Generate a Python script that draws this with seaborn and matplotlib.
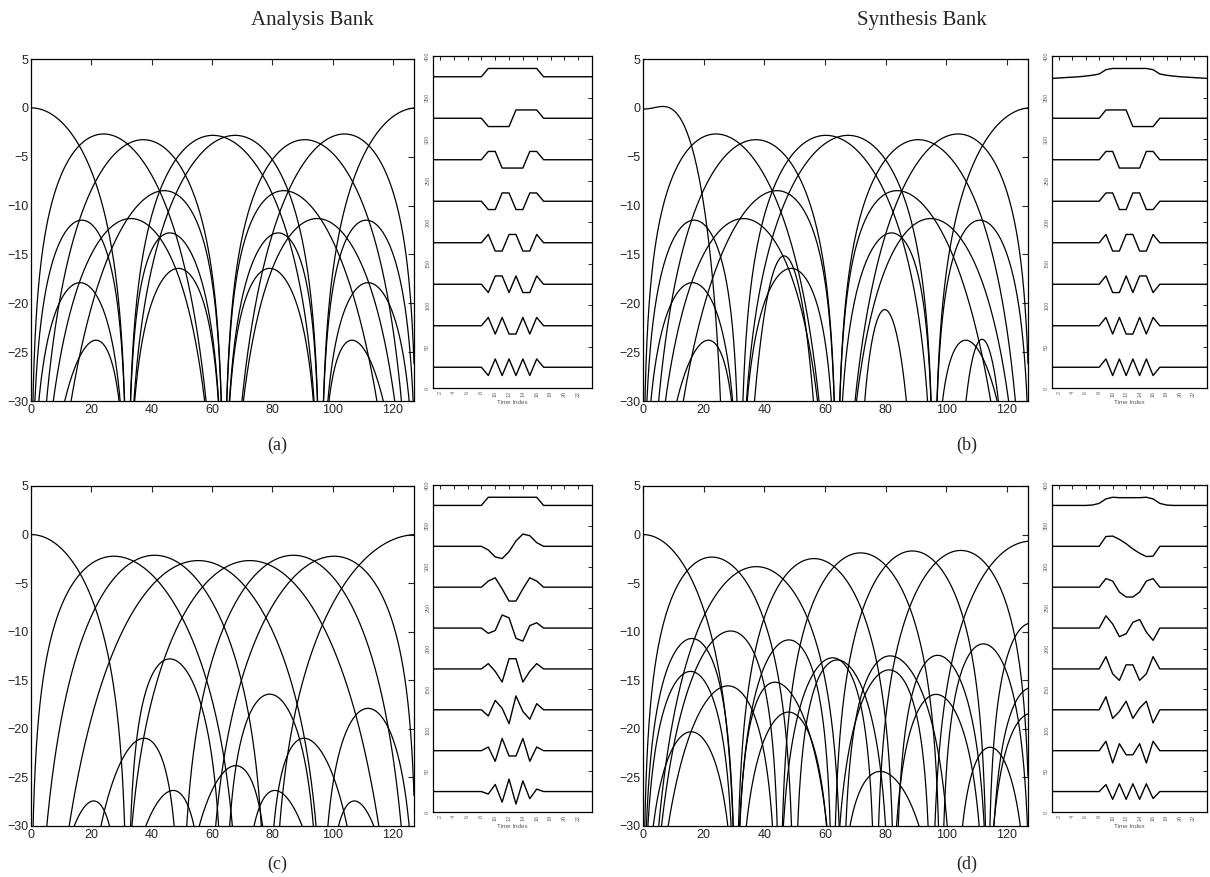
import numpy as np
import pandas as pd
import matplotlib
matplotlib.use("Agg")
import matplotlib.pyplot as plt
import seaborn as sns

sns.set_style("white")
plt.rcParams["font.family"] = ["Liberation Sans", "DejaVu Sans"]

# impulse responses, unit = one Walsh step.
# short filters sit at time index 9..16, the long low-pass ones at 1..24
analysis_walsh = [
    [1, 1, 1, 1, 1, 1, 1, 1],
    [-1, -1, -1, -1, 1, 1, 1, 1],
    [1, 1, -1, -1, -1, -1, 1, 1],
    [-1, -1, 1, 1, -1, -1, 1, 1],
    [1, -1, -1, 1, 1, -1, -1, 1],
    [-1, 1, 1, -1, 1, -1, -1, 1],
    [1, -1, 1, -1, -1, 1, -1, 1],
    [-1, 1, -1, 1, -1, 1, -1, 1],
]

synthesis_walsh_lowpass = [-0.2, -0.15, -0.1, -0.05, 0.0, 0.08, 0.18, 0.33,
                           0.85, 1.0, 1.0, 1.0, 1.0, 1.0, 1.0, 0.85,
                           0.33, 0.18, 0.08, 0.0, -0.05, -0.1, -0.15, -0.2]
synthesis_walsh = [
    [1, 1, 1, 1, -1, -1, -1, -1],
    [1, 1, -1, -1, -1, -1, 1, 1],
    [1, 1, -1, -1, 1, 1, -1, -1],
    [1, -1, -1, 1, 1, -1, -1, 1],
    [1, -1, -1, 1, -1, 1, 1, -1],
    [1, -1, 1, -1, -1, 1, -1, 1],
    [1, -1, 1, -1, 1, -1, 1, -1],
]

analysis_cos = [
    [1, 1, 1, 1, 1, 1, 1, 1],
    [-0.45, -1.3, -1.5, -0.65, 0.65, 1.5, 1.3, 0.45],
    [0.75, 1.15, -0.2, -1.7, -1.7, -0.2, 1.15, 0.75],
    [-0.65, -0.3, 1.6, 1.25, -1.25, -1.6, 0.3, 0.65],
    [0.65, -0.3, -1.6, 1.25, 1.25, -1.6, -0.3, 0.65],
    [-0.75, 1.15, 0.2, -1.7, 1.7, -0.2, -1.15, 0.75],
    [0.45, -1.3, 1.5, -0.65, -0.65, 1.5, -1.3, 0.45],
    [-0.3, 0.87, -1.3, 1.53, -1.53, 1.3, -0.87, 0.3],
]

synthesis_cos_lowpass = [0, 0, 0, 0, 0, 0, 0.05, 0.25,
                         0.8, 1.0, 0.95, 0.95, 0.95, 0.95, 1.0, 0.8,
                         0.25, 0.05, 0, 0, 0, 0, 0, 0]
synthesis_cos = [
    [1.2, 1.25, 0.85, 0.32, -0.32, -0.85, -1.25, -1.2],
    [1.05, 0.75, -0.6, -1.2, -1.2, -0.6, 0.75, 1.05],
    [1.5, 0.5, -1.05, -0.7, 0.7, 1.05, -0.5, -1.5],
    [1.5, -0.6, -1.4, 0.5, 0.5, -1.4, -0.6, 1.5],
    [1.6, -1.05, -0.2, 1.05, -1.05, 0.2, 1.05, -1.6],
    [1.15, -1.5, 0.85, -0.5, -0.5, 0.85, -1.5, 1.15],
    [0.85, -0.95, 0.95, -0.95, 0.95, -0.95, 0.95, -0.85],
]

panels = {
    "a": [(9, f) for f in analysis_walsh],
    "b": [(1, synthesis_walsh_lowpass)] + [(9, f) for f in synthesis_walsh],
    "c": [(9, f) for f in analysis_cos],
    "d": [(1, synthesis_cos_lowpass)] + [(9, f) for f in synthesis_cos],
}

time_index = np.arange(1, 25)
freq_bin = np.linspace(0, 127, 2033)   # 128 bins over 0..pi
omega = np.pi * freq_bin / 128


def response_frame(bank):
    parts = []
    for k, (start, taps) in enumerate(bank):
        h = np.asarray(taps, float) / 8
        n = np.arange(len(h))
        mag = np.abs(np.exp(-1j * np.outer(omega, n)) @ h)
        parts.append(pd.DataFrame({"bin": freq_bin,
                                   "db": 20 * np.log10(np.maximum(mag, 1e-6)),
                                   "filt": k}))
    return pd.concat(parts, ignore_index=True)


def impulse_frame(bank):
    parts = []
    for k, (start, taps) in enumerate(bank):
        v = np.zeros(len(time_index))
        v[start - 1:start - 1 + len(taps)] = taps
        parts.append(pd.DataFrame({"t": time_index,
                                   "y": 375 - 50 * k + 10 * v,
                                   "filt": k}))
    return pd.concat(parts, ignore_index=True)


W, H = 1210, 877
fig = plt.figure(figsize=(W / 100, H / 100), dpi=100)


def box(x0, x1, top, bottom):
    return [x0 / W, 1 - bottom / H, (x1 - x0) / W, (bottom - top) / H]


layout = {
    "a": (box(31, 414, 59, 401), box(433, 592, 56, 388)),
    "b": (box(643, 1028, 59, 401), box(1052, 1207, 56, 388)),
    "c": (box(31, 414, 486, 826), box(433, 592, 485, 812)),
    "d": (box(643, 1028, 486, 826), box(1052, 1207, 485, 812)),
}

for key, bank in panels.items():
    big_rect, small_rect = layout[key]

    ax = fig.add_axes(big_rect)
    sns.lineplot(data=response_frame(bank), x="bin", y="db", units="filt",
                 estimator=None, color="black", lw=0.9, ax=ax, legend=False)
    ax.set_xlim(0, 127)
    ax.set_ylim(-30, 5)
    ax.set_xticks(range(0, 121, 20))
    ax.set_yticks(range(-30, 6, 5))
    ax.set_xlabel("")
    ax.set_ylabel("")
    ax.tick_params(direction="in", top=True, right=True, length=4,
                   width=0.8, labelsize=9, pad=2)
    for s in ax.spines.values():
        s.set_linewidth(0.9)
        s.set_color("black")

    sx = fig.add_axes(small_rect)
    sns.lineplot(data=impulse_frame(bank), x="t", y="y", units="filt",
                 estimator=None, color="black", lw=1.0, ax=sx, legend=False)
    sx.set_xlim(1, 24)
    sx.set_ylim(0, 400)
    sx.set_xticks(range(2, 23, 2))
    sx.set_yticks(range(0, 401, 50))
    sx.set_ylabel("")
    sx.set_xlabel("Time Index", fontsize=4.5, color="0.35", labelpad=2)
    sx.tick_params(direction="in", top=True, right=True, length=3,
                   width=0.7, labelsize=4, labelcolor="0.4", pad=2)
    plt.setp(sx.get_xticklabels(), rotation=90)
    plt.setp(sx.get_yticklabels(), rotation=90, va="center")
    for s in sx.spines.values():
        s.set_linewidth(0.9)
        s.set_color("black")

serif = ["Liberation Serif", "DejaVu Serif"]
fig.text(312 / W, 1 - 21 / H, "Analysis Bank", ha="center", va="center",
         fontsize=15, family=serif)
fig.text(922 / W, 1 - 21 / H, "Synthesis Bank", ha="center", va="center",
         fontsize=15, family=serif)
for lab, x, y in [("(a)", 277, 445), ("(b)", 967, 445),
                  ("(c)", 277, 864), ("(d)", 967, 864)]:
    fig.text(x / W, 1 - y / H, lab, ha="center", va="center",
             fontsize=13, family=serif)

fig.savefig("out.png", dpi=100)
